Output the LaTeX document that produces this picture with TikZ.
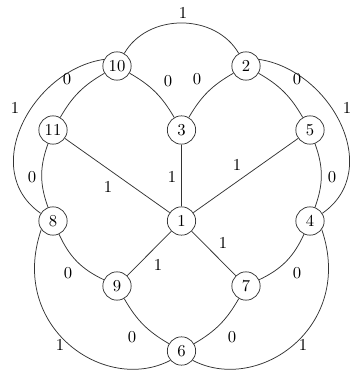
\documentclass[tikz,border=0pt]{standalone}
\begin{document}
\begin{tikzpicture}[x=0.6pt,y=0.6pt,
  vtx/.style={circle,draw=black!80,line width=0.45pt,minimum size=17pt,inner sep=0pt},
  lbl/.style={inner sep=0pt},
  con/.style={draw=black!80,line width=0.45pt}]
\useasboundingbox (0,0) rectangle (350,371);
\clip (0,0) rectangle (350,371);
% vertices
\node[vtx] (n10) at (117,305) {10};
\node[vtx] (n2)  at (246,305) {2};
\node[vtx] (n11) at (53,241)  {11};
\node[vtx] (n3)  at (181.5,241) {3};
\node[vtx] (n5)  at (310,241) {5};
\node[vtx] (n8)  at (53,150)  {8};
\node[vtx] (n1)  at (181.5,150) {1};
\node[vtx] (n4)  at (310,150) {4};
\node[vtx] (n9)  at (117,85)  {9};
\node[vtx] (n7)  at (246,85)  {7};
\node[vtx] (n6)  at (181.5,20) {6};
% connectors
\path[con] (n10) to[out=60,in=120,looseness=1.05] (n2);
\path[con] (n10) to[bend right=15] (n11);
\path[con] (n10) to[bend left=15] (n3);
\path[con] (n2) to[bend right=15] (n3);
\path[con] (n2) to[bend left=15] (n5);
\path[con] (n10.153) .. controls (32.4,301) and (-21.5,201) .. (n8.148);
\path[con] (n2.27) .. controls (330.6,301) and (384.5,201) .. (n4.32);
\path[con] (n11) to[bend right=20] (n8);
\path[con] (n5) to[bend left=20] (n4);
\path[con] (n11) -- (n1);
\path[con] (n3) -- (n1);
\path[con] (n5) -- (n1);
\path[con] (n1) -- (n9);
\path[con] (n1) -- (n7);
\path[con] (n8) to[bend right=20] (n9);
\path[con] (n4) to[bend left=20] (n7);
\path[con] (n9) to[bend right=15] (n6);
\path[con] (n7) to[bend left=15] (n6);
\path[con] (n8.216) .. controls (8,44) and (104.7,-23.5) .. (n6.220);
\path[con] (n4.-36) .. controls (355,44) and (258.3,-23.5) .. (n6.-40);
% labels
\node[lbl] (l1)  at (183,358) {1};
\node[lbl] (l2)  at (67,292)  {0};
\node[lbl] (l3)  at (168,290) {0};
\node[lbl] (l4)  at (197,292) {0};
\node[lbl] (l5)  at (297,292) {0};
\node[lbl] (l6)  at (15,263)  {1};
\node[lbl] (l7)  at (347,263) {1};
\node[lbl] (l8)  at (32,194)  {0};
\node[lbl] (l9)  at (332,194) {0};
\node[lbl] (l10) at (108,184) {1};
\node[lbl] (l11) at (172,194) {1};
\node[lbl] (l12) at (237,206) {1};
\node[lbl] (l13) at (158,106) {1};
\node[lbl] (l14) at (223,128) {1};
\node[lbl] (l15) at (68,98)   {0};
\node[lbl] (l16) at (297,98)  {0};
\node[lbl] (l17) at (132,34)  {0};
\node[lbl] (l18) at (232,34)  {0};
\node[lbl] (l19) at (60,26)   {1};
\node[lbl] (l20) at (303,26)  {1};
\end{tikzpicture}
\end{document}
